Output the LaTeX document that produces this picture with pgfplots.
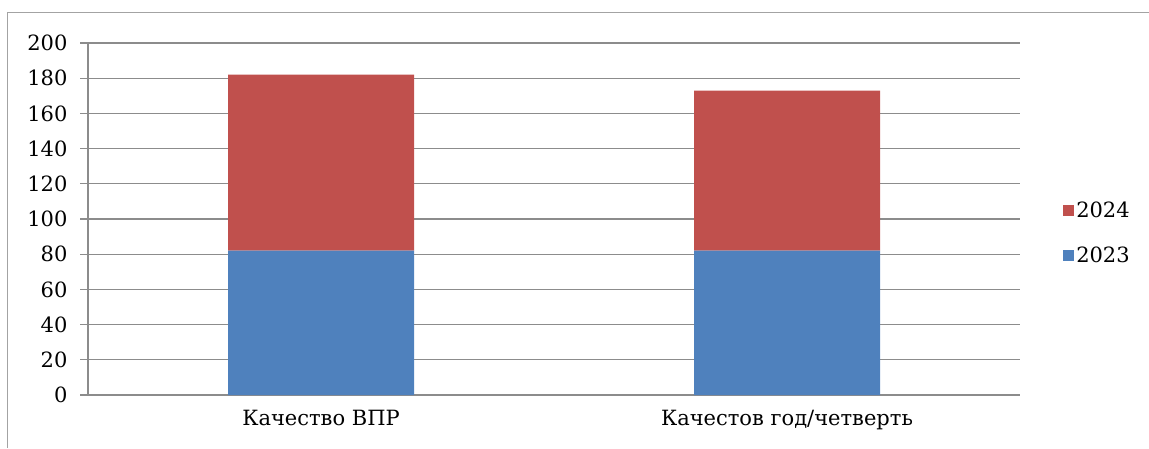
\documentclass[border=0pt]{standalone}
\usepackage{fontspec}
\setmainfont{DejaVu Serif}
\usepackage{pgfplots}
\pgfplotsset{compat=1.18}
\definecolor{s23}{HTML}{4F81BD}
\definecolor{s24}{HTML}{C0504D}
\definecolor{gridc}{HTML}{8C8C8C}

\begin{document}
\begin{tikzpicture}
\path[use as bounding box] (0pt,0pt) rectangle (1149pt,448pt);
\draw[gridc!80, line width=1.5pt] (7.5pt,0pt) -- (7.5pt,435.5pt) -- (1149pt,435.5pt);
\begin{axis}[
  at={(88pt,53pt)}, anchor=south west,
  scale only axis, width=932pt, height=352pt,
  ybar stacked, bar width=186pt,
  xmin=0.5, xmax=2.5, ymin=0, ymax=200,
  ytick={0,20,...,200},
  xtick={1,2}, xticklabels={Качество ВПР, Качестов год/четверть},
  major x tick style={draw=none},
  extra x ticks={0.5,1.5,2.5}, extra x tick labels={},
  extra x tick style={grid=none, major tick length=8pt, tick style={gridc, line width=1.2pt}},
  axis x line*=bottom, axis y line*=left,
  x axis line style={-}, y axis line style={-},
  axis line style={gridc, line width=1.2pt},
  ymajorgrids, grid style={gridc, line width=1.2pt},
  tick align=outside, major tick length=8pt,
  ytick style={gridc, line width=1.2pt},
  font=\fontsize{21}{25}\selectfont,
  /pgf/number format/assume math mode=true,
  xticklabel style={yshift=-4pt},
  yticklabel style={xshift=-9pt},
  legend style={at={(1.043,0.46)}, anchor=west, draw=none, fill=none,
    font=\fontsize{21}{25}\selectfont, row sep=24pt},
  reverse legend,
  legend cell align=left,
  legend image code/.code={\fill[#1,draw=none] (0pt,-5.5pt) rectangle (11pt,5.5pt);},
]
\addplot[fill=s23, draw=none] coordinates {(1,82) (2,82)};
\addplot[fill=s24, draw=none] coordinates {(1,100) (2,91)};
\legend{2023,2024}
\end{axis}
\end{tikzpicture}
\end{document}
